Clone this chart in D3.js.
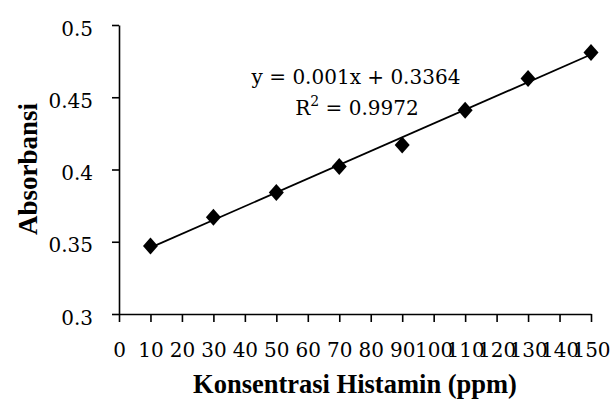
<!DOCTYPE html>
<html><head><meta charset="utf-8">
<script src="https://cdn.jsdelivr.net/npm/d3@7"></script>
<style>body{margin:0;background:#fff}svg{display:block}</style>
</head><body>
<svg id="c" width="616" height="399"></svg>
<script>
const concentration = [10, 30, 50, 70, 90, 110, 130, 150];
const absorbance = [0.347, 0.367, 0.384, 0.402, 0.417, 0.441, 0.463, 0.481];
const xTicks = [0,10,20,30,40,50,60,70,80,90,100,110,120,130,140,150];
const yTicks = [0.3, 0.35, 0.4, 0.45, 0.5];
const equationText = "y = 0.001x + 0.3364";
const r2Value = "0.9972";
const xTitle = "Konsentrasi Histamin (ppm)";
const yTitle = "Absorbansi";

const svg = d3.select("#c");
const x = d3.scaleLinear().domain([0,150]).range([119,591]);
const y = d3.scaleLinear().domain([0.3,0.5]).range([314,25]);
const numFont = "'DejaVu Serif', serif";
const titleFont = "'Liberation Serif', 'Times New Roman', serif";

// axes
const xAxis = svg.append("g").attr("transform","translate(0,314)")
  .call(d3.axisBottom(x).tickValues(xTicks).tickSize(8).tickSizeOuter(0).tickFormat(d3.format("d")));
const yAxis = svg.append("g").attr("transform","translate(119,0)")
  .call(d3.axisLeft(y).tickValues(yTicks).tickSize(7).tickPadding(19).tickSizeOuter(0).tickFormat(d => String(d)));
[xAxis,yAxis].forEach(a=>{
  a.select(".domain").attr("stroke","#000").attr("stroke-width",1.6);
  a.selectAll(".tick line").attr("stroke","#000").attr("stroke-width",1.6);
  a.selectAll("text").attr("font-family",numFont).attr("font-size",20).attr("fill","#000");
});
xAxis.selectAll("text").attr("dy",0).attr("y",43);
yAxis.selectAll("text").attr("dy","0.5em");

// regression trendline
const mx = d3.mean(concentration), my = d3.mean(absorbance);
const sxy = d3.sum(concentration.map((c,i)=>(c-mx)*(absorbance[i]-my)));
const sxx = d3.sum(concentration.map(c=>(c-mx)*(c-mx)));
const slope = sxy/sxx, intercept = my - slope*mx;
const x0 = d3.min(concentration), x1 = d3.max(concentration);
svg.append("line")
  .attr("x1",x(x0)).attr("y1",y(intercept+slope*x0))
  .attr("x2",x(x1)).attr("y2",y(intercept+slope*x1))
  .attr("stroke","#000").attr("stroke-width",1.8);

// markers
svg.append("g").selectAll("path").data(concentration).join("path")
  .attr("transform",(d,i)=>`translate(${x(d)},${y(absorbance[i])})`)
  .attr("d","M0,-8.5L7.5,0L0,8.5L-7.5,0Z").attr("fill","#000");

// equation
svg.append("text").attr("x",356).attr("y",84).attr("text-anchor","middle")
  .attr("font-family",numFont).attr("font-size",20).text(equationText);
const r = svg.append("text").attr("x",357).attr("y",115).attr("text-anchor","middle")
  .attr("font-family",numFont).attr("font-size",20);
r.append("tspan").text("R");
r.append("tspan").attr("dy",-9).attr("font-size",14).text("2");
r.append("tspan").attr("dy",9).text(" = " + r2Value);

// titles
svg.append("text").attr("x",355).attr("y",393).attr("text-anchor","middle")
  .attr("font-family",titleFont).attr("font-weight","bold").attr("font-size",26.5).text(xTitle);
svg.append("text").attr("transform","translate(37,169) rotate(-90)").attr("text-anchor","middle")
  .attr("font-family",titleFont).attr("font-weight","bold").attr("font-size",27).text(yTitle);
</script>
</body></html>
